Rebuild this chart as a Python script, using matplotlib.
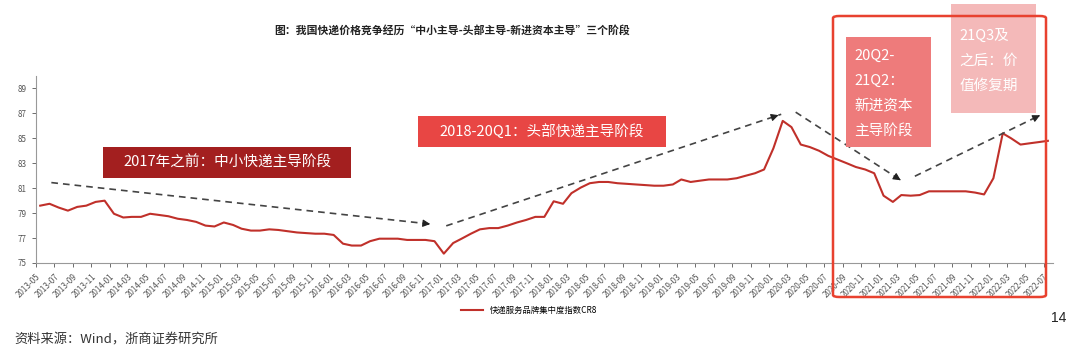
import numpy as np
import pandas as pd
import matplotlib
matplotlib.use("Agg")
import matplotlib.pyplot as plt
import matplotlib.dates as mdates
from matplotlib.patches import Rectangle, FancyBboxPatch

plt.rcParams['font.family'] = ['Noto Sans CJK SC', 'DejaVu Sans']
plt.rcParams['axes.unicode_minus'] = False

# 快递服务品牌集中度指数CR8, monthly 2013-05 .. 2022-07
cr8 = [79.6, 79.75, 79.45, 79.2, 79.5, 79.6, 79.9, 80.0, 78.95, 78.65,
       78.7, 78.7, 78.95, 78.85, 78.75, 78.55, 78.45, 78.3, 78.0, 77.93,
       78.25, 78.05, 77.75, 77.6, 77.6, 77.7, 77.65, 77.55, 77.45, 77.4,
       77.35, 77.35, 77.25, 76.55, 76.4, 76.4, 76.75, 76.95, 76.95, 76.95,
       76.85, 76.85, 76.85, 76.75, 75.75, 76.6, 76.95, 77.35, 77.7, 77.8,
       77.8, 78.0, 78.25, 78.45, 78.7, 78.7, 79.95, 79.75, 80.6, 81.05,
       81.4, 81.5, 81.5, 81.4, 81.35, 81.3, 81.25, 81.2, 81.2, 81.3,
       81.7, 81.5, 81.6, 81.7, 81.7, 81.7, 81.8, 82.0, 82.2, 82.5,
       84.2, 86.4, 85.9, 84.5, 84.3, 84.0, 83.6, 83.3, 83.0, 82.7,
       82.5, 82.2, 80.4, 79.9, 80.45, 80.4, 80.45, 80.75, 80.75, 80.75,
       80.75, 80.75, 80.65, 80.5, 81.8, 85.4, 85.0, 84.5, 84.6, 84.7,
       84.8]
months = pd.date_range('2013-05-01', periods=len(cr8), freq='MS') + pd.Timedelta(days=14)

y_ticks = [75, 77, 79, 81, 83, 85, 87, 89]

title = '图：我国快递价格竞争经历“中小主导-头部主导-新进资本主导”三个阶段'
source = '资料来源：Wind，浙商证券研究所'
series_name = '快递服务品牌集中度指数CR8'

# trend arrows (start, end) as (date, value)
arrows = [(('2013-06-21', 81.45), ('2016-12-10', 78.1)),
          (('2017-01-23', 77.98), ('2020-02-10', 86.93)),
          (('2020-03-29', 87.1), ('2021-03-13', 81.64)),
          (('2021-04-29', 81.96), ('2022-06-19', 86.85))]

W, H = 1080, 348
fig = plt.figure(figsize=(W / 100, H / 100), dpi=100)


def fx(x):
    return x / W


def fy(y):
    return 1 - y / H


ax = fig.add_axes([fx(36), fy(263), fx(1053) - fx(36), fy(76) - fy(263)])
ax.plot(months, cr8, color='#c0302a', lw=1.5, label=series_name, zorder=3)

ax.set_ylim(75, 90)
ax.set_yticks(y_ticks)
ax.set_xlim(pd.Timestamp('2013-05-01'), pd.Timestamp('2022-08-01'))
ax.xaxis.set_major_locator(mdates.MonthLocator(bymonth=[1, 3, 5, 7, 9, 11]))
ax.xaxis.set_major_formatter(mdates.DateFormatter('%Y-%m'))
for lab in ax.get_xticklabels():
    lab.set_rotation(45)
    lab.set_ha('right')
    lab.set_rotation_mode('anchor')
ax.tick_params(axis='both', labelsize=5.8, colors='#555555', length=3, width=0.6)
for s in ['top', 'right']:
    ax.spines[s].set_visible(False)
for s in ['left', 'bottom']:
    ax.spines[s].set_color('#999999')
    ax.spines[s].set_linewidth(0.8)

for (d0, v0), (d1, v1) in arrows:
    x0, x1 = mdates.datestr2num(d0), mdates.datestr2num(d1)
    ax.plot([x0, x1], [v0, v1], ls=(0, (4, 3)), color='#444444', lw=1.2, zorder=4)
    ax.annotate('', xy=(x1, v1), xytext=(x1 - (x1 - x0) * 0.03, v1 - (v1 - v0) * 0.03),
                arrowprops=dict(arrowstyle='-|>', color='#222222', lw=0.8,
                                mutation_scale=11), zorder=5)

fig.legend(loc='center', bbox_to_anchor=(0.49, fy(310)), frameon=False,
           fontsize=6, handlelength=2.6)

fig.text(fx(452), fy(30), title, ha='center', va='center', fontsize=7.8,
         fontweight='bold', color='#222222')
fig.text(fx(14), fy(340), source, ha='left', va='center', fontsize=9.5, color='#333333')
fig.text(fx(1066), fy(318), '14', ha='right', va='center', fontsize=10, color='#222222',
         family='Liberation Sans')


def box(x0, y0, x1, y1, color, alpha=1.0):
    fig.add_artist(Rectangle((fx(x0), fy(y1)), fx(x1) - fx(x0), fy(y0) - fy(y1),
                             transform=fig.transFigure, facecolor=color,
                             edgecolor='none', alpha=alpha, zorder=6))


box(103, 147, 351, 178, '#a31f1f')
fig.text(fx(227), fy(162.5), '2017年之前：中小快递主导阶段', ha='center', va='center',
         fontsize=10.5, color='white', zorder=7)

box(418, 116, 666, 147, '#e84644')
fig.text(fx(542), fy(131.5), '2018-20Q1：头部快递主导阶段', ha='center', va='center',
         fontsize=10.5, color='white', zorder=7)

box(846, 37, 931, 147, '#ee7b7b')
fig.text(fx(854), fy(93.5), '20Q2-\n21Q2：\n新进资本\n主导阶段', ha='left', va='center',
         fontsize=10.5, color='white', linespacing=2.0, zorder=7)

box(951, 4, 1036, 113, '#f4b9b9')
fig.text(fx(959), fy(60.5), '21Q3及\n之后：价\n值修复期', ha='left', va='center',
         fontsize=10.5, color='white', linespacing=2.0, zorder=7)

fig.add_artist(FancyBboxPatch((fx(833), fy(297)), fx(1046) - fx(833), fy(16) - fy(297),
                              boxstyle='round,pad=0,rounding_size=0.006',
                              transform=fig.transFigure, facecolor='none',
                              edgecolor='#e8412f', lw=1.8, zorder=8))

fig.savefig('out.png', dpi=100)
